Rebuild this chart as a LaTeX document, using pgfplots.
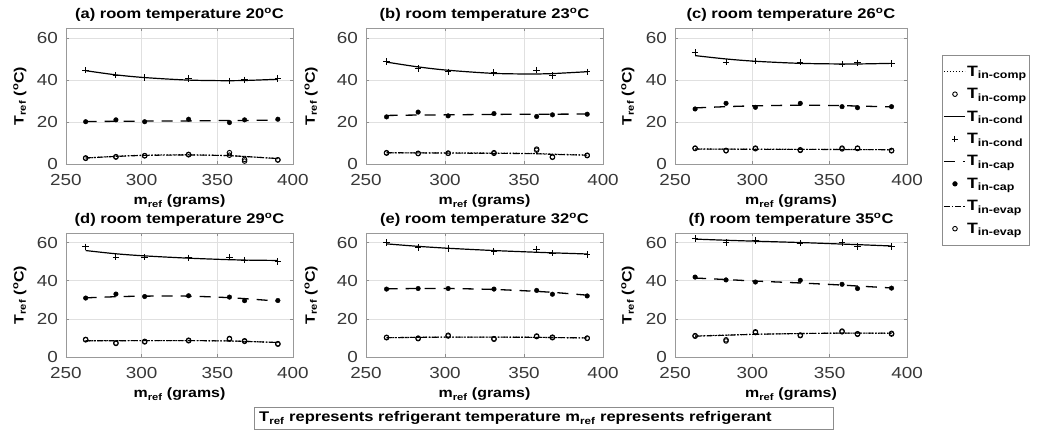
\documentclass[border=0pt]{standalone}
\usepackage{fontspec}
\setmainfont{Liberation Sans}[FakeStretch=1.18]
\usepackage{pgfplots}
\usepackage{pgfplotstable}
\pgfplotsset{compat=1.18}

\newcommand\ticklab{\fontsize{16}{18}\selectfont}
\newcommand\titlefont{\fontsize{14}{16}\selectfont\bfseries}
\newcommand\labfont{\fontsize{13.5}{16}\selectfont\bfseries}
\newcommand\legfont{\fontsize{15}{17}\selectfont\bfseries}
\newcommand\boxfont{\fontsize{14}{16}\selectfont\bfseries}

% refrigerant mass (g) against measured temperatures and fitted curves
\pgfplotstableread{
m   compfit comp evapfit evap condfit cond capfit cap
263 2.8  2.9  2.9  2.7  44.6 44.8 20.3 20.2
283 3.7  3.5  3.6  3.3  42.6 42.4 20.4 21.1
302 4.2  3.9  4.1  4.0  41.3 41.3 20.5 20.2
331 4.4  4.4  4.3  4.6  40.1 40.8 20.6 21.4
358 3.95 4.2  4.0  5.4  39.8 39.7 20.8 19.8
368 3.6  2.2  3.6  1.4  39.9 40.2 20.8 21.1
390 2.6  2.0  2.6  1.9  40.5 40.8 21.0 21.4
}\dataA
\pgfplotstableread{
m   compfit comp evapfit evap condfit cond capfit cap
263 5.3  5.2  5.4  5.4  48.7 48.9 23.2 22.5
283 5.3  5.0  5.3  5.1  46.4 45.6 23.4 24.8
302 5.3  5.2  5.2  5.1  44.8 44.0 23.5 23.0
331 5.2  5.4  5.1  5.1  43.3 43.7 23.7 24.1
358 5.0  6.6  4.9  7.1  43.0 44.9 23.8 22.7
368 4.7  3.4  4.6  3.2  43.2 42.2 23.8 23.5
390 4.3  4.2  4.2  4.0  44.1 44.0 23.9 23.8
}\dataB
\pgfplotstableread{
m   compfit comp evapfit evap condfit cond capfit cap
263 7.2  7.4  7.1  7.6  51.8 53.2 26.8 26.3
283 7.1  6.3  7.1  6.5  50.2 48.7 27.4 29.0
302 7.1  7.3  7.0  7.6  49.1 49.2 27.8 27.1
331 7.0  6.8  7.0  6.5  48.1 48.7 28.1 29.0
358 7.0  7.2  6.9  7.6  47.8 47.7 27.9 27.4
368 6.9  7.4  6.9  7.6  47.8 48.4 27.7 26.9
390 6.9  6.3  6.8  6.5  48.1 48.1 27.3 27.4
}\dataC
\pgfplotstableread{
m   compfit comp evapfit evap condfit cond capfit cap
263 8.5  9.0  8.5  9.2  55.8 57.7 31.0 30.9
283 8.6  7.4  8.5  7.1  54.1 52.4 31.6 33.0
302 8.6  8.2  8.6  7.9  53.0 52.4 31.9 31.7
331 8.6  8.8  8.6  8.5  51.8 52.0 31.9 32.1
358 8.4  9.4  8.4  9.7  51.0 52.4 31.1 31.4
368 8.2  8.2  8.2  8.5  50.8 50.8 30.6 29.5
390 7.6  7.0  7.6  6.7  50.6 50.1 29.3 29.6
}\dataD
\pgfplotstableread{
m   compfit comp evapfit evap condfit cond capfit cap
263 10.1 10.1 10.1 10.3 59.3 60.0 35.7 35.6
283 10.3 9.9  10.3 9.6  58.0 57.3 35.9 35.9
302 10.4 11.0 10.4 11.4 57.0 56.9 35.9 35.9
331 10.4 9.6  10.4 9.3  55.8 55.2 35.4 35.6
358 10.3 10.7 10.3 11.0 54.9 56.6 34.4 34.9
368 10.2 10.4 10.2 10.1 54.6 54.4 33.9 32.9
390 10.0 9.9  10.0 9.8  54.0 53.7 32.4 32.0
}\dataE
\pgfplotstableread{
m   compfit comp evapfit evap condfit cond capfit cap
263 11.0 10.9 10.9 11.2 61.8 62.2 41.4 41.9
283 11.5 9.0  11.4 8.4  61.2 60.0 40.6 40.4
302 11.9 12.8 11.9 13.2 60.7 61.0 39.8 39.3
331 12.3 11.2 12.3 11.5 60.0 59.6 38.8 40.2
358 12.5 13.2 12.5 13.6 59.2 60.0 37.7 38.1
368 12.5 12.2 12.5 11.9 58.9 57.9 37.2 35.9
390 12.4 12.0 12.5 12.4 58.2 57.9 36.2 36.1
}\dataF

\pgfplotsset{
  lineleg/.style={legend image code/.code={\draw[##1] (0pt,0pt) -- (21pt,0pt);}},
  markleg/.style={legend image code/.code={\draw[##1] plot coordinates {(11pt,0pt)};}},
  compline/.style={black, line width=1.1pt, dash pattern=on 1.3pt off 1.7pt, smooth, no marks, lineleg},
  comppts/.style={black, only marks, mark=o, mark size=2.3pt, mark options={solid, line width=0.9pt}, markleg},
  condline/.style={black, line width=1.2pt, solid, smooth, no marks, lineleg},
  condpts/.style={black, only marks, mark=+, mark size=3.2pt, mark options={solid, line width=1pt}, markleg},
  capline/.style={black, line width=1.3pt, dash pattern=on 11pt off 8pt, smooth, no marks, lineleg},
  cappts/.style={black, only marks, mark=*, mark size=2.3pt, mark options={solid}, markleg},
  evapline/.style={black, line width=1.1pt, dash pattern=on 6pt off 2pt on 1.5pt off 2pt, smooth, no marks, lineleg},
  evappts/.style={black, only marks, mark=o, mark size=2.3pt, mark options={solid, line width=0.9pt}, markleg},
  panel/.style={
    scale only axis, anchor=south west,
    xmin=250, xmax=400, ymin=0, ymax=65,
    xtick={250,300,350,400}, ytick={0,20,40,60},
    grid=major, major grid style={draw=black!12, line width=0.5pt},
    axis line style={draw=black!40, line width=0.6pt},
    tick align=inside, major tick length=3pt,
    tick style={draw=black!45, line width=0.5pt},
    ticklabel style={font=\ticklab, text=black!78, inner sep=0pt},
    /pgf/number format/assume math mode=true,
    xticklabel style={yshift=-10.5pt},
    yticklabel style={xshift=-8pt},
    title style={at={(axis description cs:0.5,1)}, anchor=south, inner sep=0pt, yshift=0.5pt, font=\titlefont},
    xlabel={m\textsubscript{ref} (grams)},
    xlabel style={at={(axis description cs:0.5,0)}, anchor=base, yshift=-41pt, font=\labfont},
    ylabel={T\textsubscript{ref} (\textsuperscript{o}C)},
  },
  ylab/.style={ylabel style={at={(axis description cs:#1,0.5)}, anchor=center, font=\labfont}},
}

\newcommand\plotall[1]{%
  \addplot[compline] table[x=m, y=compfit] {#1};
  \addplot[comppts]  table[x=m, y=comp] {#1};
  \addplot[condline] table[x=m, y=condfit] {#1};
  \addplot[condpts]  table[x=m, y=cond] {#1};
  \addplot[capline]  table[x=m, y=capfit] {#1};
  \addplot[cappts]   table[x=m, y=cap] {#1};
  \addplot[evapline] table[x=m, y=evapfit] {#1};
  \addplot[evappts]  table[x=m, y=evap] {#1};
}

\begin{document}
\begin{tikzpicture}
\useasboundingbox[fill=white] (0pt,0pt) rectangle (1050pt,430pt);

% top row
\begin{axis}[panel, at={(66pt,266pt)}, width=227pt, height=136pt, ylab=-0.203,
  title={(a) room temperature 20\textsuperscript{o}C}]
  \plotall{\dataA}
\end{axis}
\begin{axis}[panel, at={(366pt,266pt)}, width=237pt, height=136pt, ylab=-0.232,
  title={(b) room temperature 23\textsuperscript{o}C}]
  \plotall{\dataB}
\end{axis}
\begin{axis}[panel, at={(675pt,266pt)}, width=232pt, height=136pt, ylab=-0.203,
  title={(c) room temperature 26\textsuperscript{o}C},
  legend cell align=left,
  legend entries={T\textsubscript{in-comp}, T\textsubscript{in-comp},
    T\textsubscript{in-cond}, T\textsubscript{in-cond},
    T\textsubscript{in-cap}, T\textsubscript{in-cap},
    T\textsubscript{in-evap}, T\textsubscript{in-evap}},
  legend style={at={(1.151,0.801)}, anchor=north west, draw=black!45,
    line width=0.6pt, font=\legfont, inner xsep=1pt, inner ysep=9pt,
    row sep=7.6pt, nodes={inner sep=1.5pt}}]
  \plotall{\dataC}
\end{axis}

% bottom row
\begin{axis}[panel, at={(66pt,73pt)}, width=227pt, height=124pt, ylab=-0.203,
  title={(d) room temperature 29\textsuperscript{o}C}]
  \plotall{\dataD}
\end{axis}
\begin{axis}[panel, at={(366pt,73pt)}, width=237pt, height=124pt, ylab=-0.232,
  title={(e) room temperature 32\textsuperscript{o}C}]
  \plotall{\dataE}
\end{axis}
\begin{axis}[panel, at={(675pt,73pt)}, width=232pt, height=124pt, ylab=-0.203,
  title={(f) room temperature 35\textsuperscript{o}C}]
  \plotall{\dataF}
\end{axis}

% caption box
\draw[black!45, line width=0.6pt] (254pt,0.5pt) rectangle (833pt,23pt);
\node[anchor=base west, inner sep=0pt, font=\boxfont] at (259pt,8pt)
  {T\textsubscript{ref} represents refrigerant temperature m\textsubscript{ref} represents refrigerant};
\end{tikzpicture}
\end{document}
